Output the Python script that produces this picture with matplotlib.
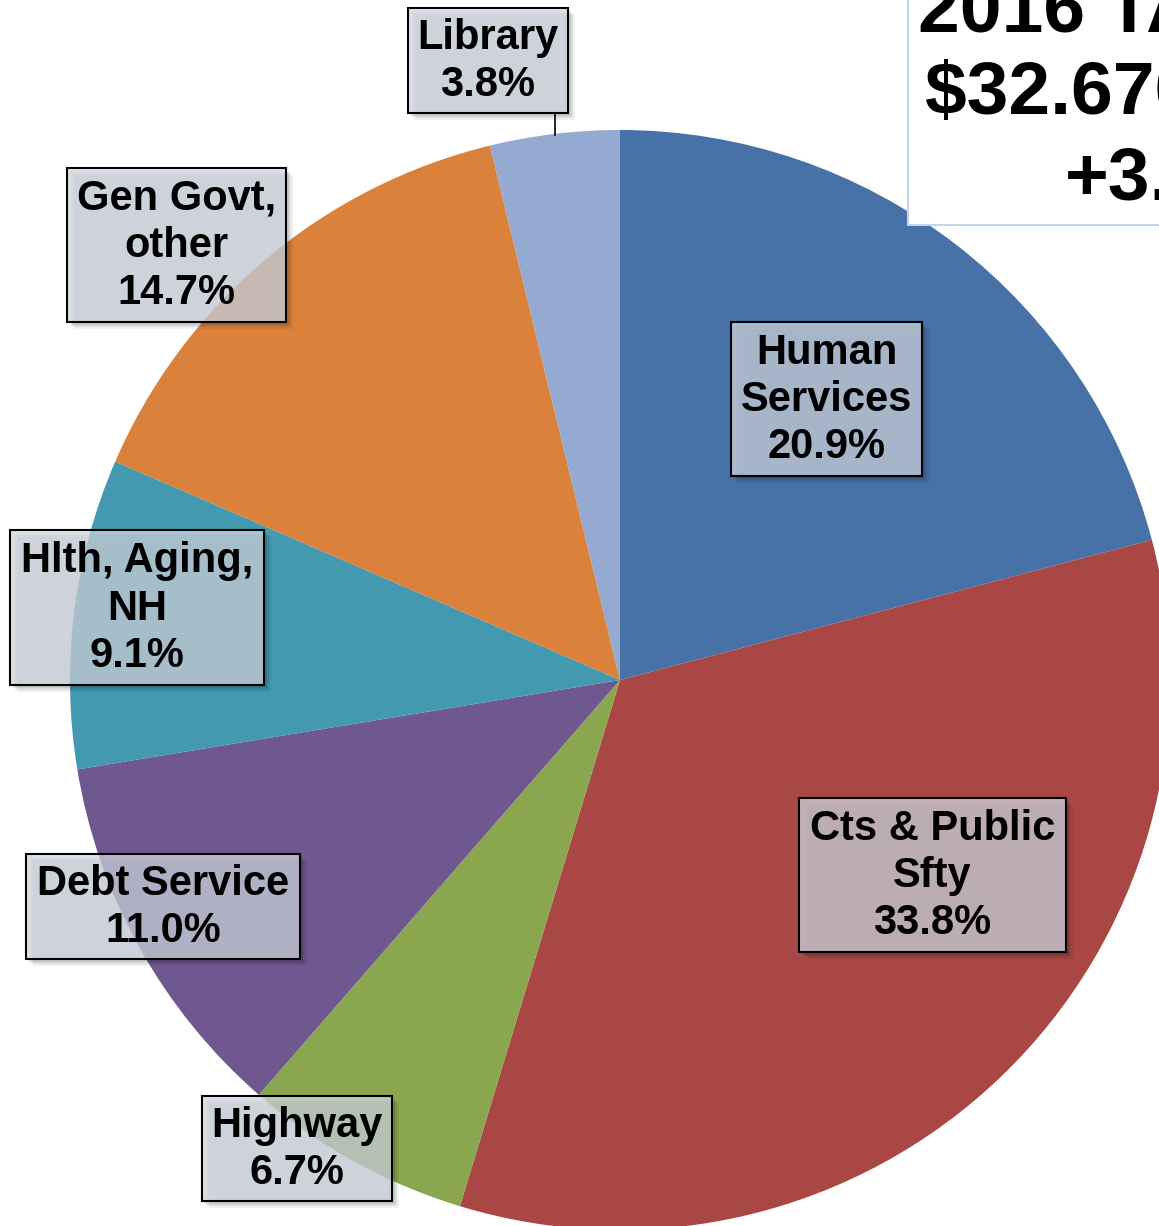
import matplotlib
matplotlib.use("Agg")
import matplotlib.pyplot as plt
from matplotlib.patches import Rectangle

# ---- data ----
categories = ["Human\nServices", "Cts & Public\nSfty", "Highway", "Debt Service",
              "Hlth, Aging,\nNH", "Gen Govt,\nother", "Library"]
shares = [20.9, 33.8, 6.7, 11.0, 9.1, 14.7, 3.8]
colors = ["#4672a8", "#a94744", "#8aa64e", "#6f5890", "#4299b0", "#da823c", "#94aad0"]
title_lines = ["2016 TAX LEVY", "$32.670 Million", "+3.2%"]

W, H = 1159, 1226
fig = plt.figure(figsize=(W / 100, H / 100), dpi=100)
ax = fig.add_axes([0, 0, 1, 1])
ax.set_xlim(0, W)
ax.set_ylim(0, H)
ax.set_aspect("equal")
ax.axis("off")

def Y(py):
    return H - py

cx, cy, R = 620, Y(680), 550
ax.pie(shares, colors=colors, startangle=90, counterclock=False,
       radius=R, center=(cx, cy), frame=True,
       wedgeprops=dict(linewidth=0))
ax.set_xlim(0, W)
ax.set_ylim(0, H)
ax.axis("off")

font = ["Liberation Sans", "DejaVu Sans"]

# label boxes: (x0, y0, x1, y1) in pixel coords (top-left origin)
boxes = [
    (731, 322, 922, 476),
    (799, 798, 1066, 952),
    (202, 1096, 392, 1201),
    (26, 854, 300, 959),
    (10, 530, 264, 685),
    (67, 168, 286, 322),
    (408, 8, 568, 113),
]

# leader line for Library
ax.plot([555, 555], [Y(113), Y(135)], color="black", lw=1.2, zorder=3)

for cat, val, (x0, y0, x1, y1) in zip(categories, shares, boxes):
    for k, a in [(7, 0.06), (5, 0.08), (3, 0.10)]:
        ax.add_patch(Rectangle((x0 + k, Y(y1) - k), x1 - x0, y1 - y0,
                               facecolor="black", alpha=a, lw=0, zorder=4))
    ax.add_patch(Rectangle((x0, Y(y1)), x1 - x0, y1 - y0,
                           facecolor="#d2d9e3", alpha=0.73,
                           edgecolor="none", zorder=5))
    ax.add_patch(Rectangle((x0, Y(y1)), x1 - x0, y1 - y0,
                           facecolor="none", edgecolor="black", lw=1.5, zorder=6))
    ax.text((x0 + x1) / 2, Y((y0 + y1) / 2 + 1), f"{cat}\n{val:.1f}%",
            ha="center", va="center", fontsize=30, fontweight="bold",
            family=font, linespacing=1.24, color="black", zorder=7)

# title box (partially off canvas, as in the reference)
ax.add_patch(Rectangle((908, Y(225)), 400, 300, facecolor="white",
                       edgecolor="#c5d5ea", lw=1.5, zorder=8))
title_x = [918, 925, 1065]
title_y = [12, 95, 180]
for t, tx, ty in zip(title_lines, title_x, title_y):
    ax.text(tx, Y(ty), t, ha="left", va="center", fontsize=54,
            fontweight="bold", family=font, color="black", zorder=9)

fig.savefig("out.png", dpi=100)
